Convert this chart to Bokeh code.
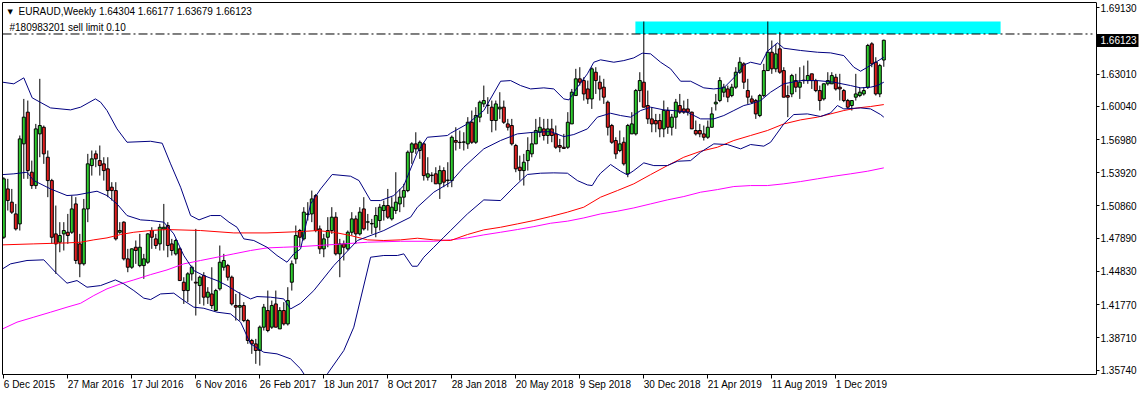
from bokeh.plotting import figure
from bokeh.models import (Range1d, FixedTicker, PrintfTickFormatter, Label,
                          ColumnDataSource, LinearAxis)
from bokeh.embed import file_html
from bokeh.resources import INLINE

# ---------------- data (EURAUD weekly) ----------------
symbol_title = "EURAUD,Weekly  1.64304 1.66177 1.63679 1.66123"
order_text = "#180983201 sell limit 0.10"

opens = [1.4798,1.5243,1.5121,1.5013,1.4921,1.5658,1.5950,1.5397,1.5274,1.5750,
         1.5811,1.5535,1.5320,1.4829,1.4752,1.4829,1.4844,1.4844,1.5105,1.4737,
         1.4553,1.5059,1.5458,1.5566,1.5504,1.5474,1.5428,1.5259,1.5228,1.4844,
         1.4937,1.4599,1.4522,1.4706,1.4537,1.4537,1.4568,1.4860,1.4783,1.4737,
         1.4875,1.4906,1.4737,1.4645,1.4691,1.4384,1.4307,1.4461,1.4384,1.4353,
         1.4445,1.4246,1.4276,1.4123,1.4323,1.4522,1.4537,1.4430,1.4169,1.4154,
         1.4169,1.4031,1.3847,1.3816,1.3755,1.3970,1.4123,1.3970,1.4184,1.3954,
         1.4123,1.4000,1.4384,1.4599,1.4860,1.4783,1.5008,1.5013,1.5182,1.4875,
         1.4691,1.4798,1.4860,1.4983,1.4645,1.4737,1.4691,1.4844,1.4967,1.4829,
         1.5059,1.4937,1.4921,1.4890,1.4952,1.5044,1.5090,1.4967,1.5044,1.5105,
         1.5167,1.5228,1.5581,1.5658,1.5597,1.5658,1.5351,1.5366,1.5382,1.5290,
         1.5412,1.5320,1.5320,1.5689,1.5673,1.5673,1.5658,1.5857,1.5673,1.5904,
         1.6026,1.6011,1.5996,1.5873,1.5980,1.5996,1.5842,1.5827,1.5643,1.5443,
         1.5412,1.5504,1.5566,1.5658,1.5765,1.5796,1.5735,1.5796,1.5750,1.5643,
         1.5627,1.5627,1.5842,1.6103,1.6257,1.6241,1.6164,1.6072,1.6318,1.6226,
         1.6180,1.6042,1.5827,1.5689,1.5597,1.5673,1.5382,1.5750,1.5750,1.6149,
         1.6226,1.6011,1.5888,1.5873,1.5873,1.5796,1.5965,1.5811,1.5904,1.6011,
         1.5980,1.5980,1.5950,1.5781,1.5781,1.5750,1.5719,1.5811,1.6026,1.6057,
         1.6134,1.6164,1.6103,1.6180,1.6318,1.6395,1.6149,1.6072,1.6057,1.5919,
         1.6103,1.6333,1.6502,1.6349,1.6533,1.6333,1.6103,1.6118,1.6241,1.6180,
         1.6241,1.6241,1.6303,1.6241,1.6149,1.6072,1.6211,1.6211,1.6272,1.6180,
         1.6149,1.6057,1.6011,1.6088,1.6103,1.6118,1.6180,1.6579,1.6410,1.6118,
         1.64304]
highs = [1.5351,1.5336,1.5243,1.5105,1.5735,1.6072,1.6057,1.5504,1.5842,1.6257,
         1.5827,1.5597,1.5336,1.5090,1.4937,1.4937,1.5013,1.5182,1.5167,1.4829,
         1.5151,1.5566,1.5597,1.5597,1.5643,1.5535,1.5535,1.5305,1.5305,1.4937,
         1.4945,1.4691,1.4695,1.4768,1.4829,1.4645,1.4835,1.4890,1.4829,1.4921,
         1.5105,1.4937,1.4783,1.4783,1.4706,1.4430,1.4476,1.4537,1.4875,1.4445,
         1.4476,1.4338,1.4522,1.4323,1.4722,1.4645,1.4553,1.4445,1.4276,1.4292,
         1.4200,1.4046,1.3862,1.3862,1.3985,1.4184,1.4307,1.4215,1.4307,1.4154,
         1.4200,1.4338,1.4584,1.4906,1.4875,1.5075,1.5121,1.5228,1.5197,1.4906,
         1.4829,1.4983,1.5075,1.5029,1.4783,1.4768,1.4860,1.5029,1.4998,1.5075,
         1.5167,1.5013,1.4967,1.5075,1.5105,1.5136,1.5243,1.5167,1.5397,1.5243,
         1.5290,1.5597,1.5673,1.5765,1.5689,1.5673,1.5535,1.5397,1.5443,1.5458,
         1.5443,1.5489,1.5735,1.5811,1.5781,1.5765,1.5904,1.5965,1.5996,1.6057,
         1.6195,1.6088,1.6057,1.6057,1.6134,1.6057,1.5888,1.5888,1.5658,1.5550,
         1.5566,1.5719,1.5765,1.5888,1.5904,1.5888,1.5888,1.5888,1.5827,1.5704,
         1.5750,1.5950,1.6164,1.6349,1.6364,1.6272,1.6241,1.6364,1.6364,1.6287,
         1.6257,1.6057,1.5842,1.5719,1.5781,1.5719,1.5842,1.5950,1.6164,1.6318,
         1.6785,1.6149,1.5996,1.5934,1.5934,1.6057,1.5996,1.5934,1.6072,1.6118,
         1.6057,1.6072,1.5955,1.5873,1.5842,1.5827,1.5873,1.5996,1.6118,1.6272,
         1.6211,1.6195,1.6211,1.6364,1.6456,1.6410,1.6257,1.6103,1.6072,1.6118,
         1.6395,1.6785,1.6610,1.6579,1.6686,1.6364,1.6195,1.6303,1.6303,1.6364,
         1.6379,1.6425,1.6303,1.6257,1.6195,1.6215,1.6318,1.6318,1.6303,1.6303,
         1.6164,1.6072,1.6060,1.6303,1.6180,1.6180,1.6579,1.6594,1.6456,1.6395,
         1.66177]
lows = [1.4783,1.5044,1.5013,1.4860,1.4860,1.5336,1.5336,1.5243,1.5243,1.5535,
        1.5474,1.5167,1.4737,1.4461,1.4660,1.4676,1.4737,1.4829,1.4553,1.4430,
        1.4537,1.4937,1.5366,1.5443,1.5366,1.5320,1.5167,1.5136,1.4768,1.4829,
        1.4584,1.4476,1.4507,1.4553,1.4522,1.4415,1.4553,1.4691,1.4691,1.4676,
        1.4676,1.4614,1.4630,1.4630,1.4399,1.4184,1.4200,1.4399,1.4077,1.4184,
        1.4169,1.4184,1.4138,1.4120,1.4307,1.4491,1.4399,1.4169,1.4031,1.4031,
        1.4016,1.3816,1.3724,1.3632,1.3616,1.3939,1.3923,1.3954,1.3970,1.3954,
        1.3985,1.3985,1.4307,1.4553,1.4706,1.4768,1.4952,1.4937,1.4844,1.4645,
        1.4614,1.4706,1.4829,1.4630,1.4430,1.4584,1.4676,1.4814,1.4737,1.4814,
        1.4860,1.4860,1.4829,1.4798,1.4860,1.4952,1.4967,1.4952,1.5013,1.5029,
        1.5075,1.5213,1.5474,1.5566,1.5520,1.5320,1.5320,1.5305,1.5290,1.5151,
        1.5259,1.5259,1.5259,1.5597,1.5612,1.5597,1.5612,1.5658,1.5658,1.5857,
        1.5996,1.5934,1.5765,1.5781,1.5888,1.5842,1.5781,1.5643,1.5397,1.5320,
        1.5274,1.5412,1.5535,1.5658,1.5719,1.5689,1.5658,1.5673,1.5612,1.5581,
        1.5612,1.5612,1.5842,1.6103,1.6195,1.6057,1.6026,1.5980,1.6118,1.6057,
        1.6026,1.5735,1.5658,1.5520,1.5581,1.5458,1.5351,1.5750,1.5735,1.6042,
        1.5996,1.5842,1.5765,1.5765,1.5719,1.5719,1.5750,1.5735,1.5796,1.5934,
        1.5934,1.5919,1.5796,1.5735,1.5719,1.5689,1.5704,1.5811,1.5965,1.6042,
        1.6088,1.6042,1.6088,1.6164,1.6303,1.6164,1.6026,1.6026,1.5888,1.5904,
        1.6088,1.6333,1.6303,1.6318,1.6303,1.6088,1.5904,1.6088,1.6134,1.6072,
        1.6211,1.6211,1.6164,1.6134,1.5965,1.6057,1.6195,1.6211,1.6149,1.6057,
        1.6042,1.5980,1.5965,1.6057,1.6088,1.6103,1.6164,1.6364,1.6103,1.6088,
        1.63679]
closes = [1.5336,1.5136,1.5029,1.4875,1.5704,1.5904,1.5412,1.5274,1.5796,1.5827,
          1.5566,1.5320,1.4798,1.4737,1.4814,1.4860,1.4814,1.5059,1.4584,1.4553,
          1.5059,1.5474,1.5520,1.5520,1.5458,1.5412,1.5228,1.5228,1.4783,1.4860,
          1.4599,1.4522,1.4691,1.4676,1.4706,1.4599,1.4829,1.4798,1.4722,1.4890,
          1.4890,1.4722,1.4676,1.4768,1.4399,1.4307,1.4461,1.4522,1.4376,1.4430,
          1.4246,1.4292,1.4169,1.4307,1.4568,1.4584,1.4430,1.4184,1.4154,1.4169,
          1.4031,1.3847,1.3816,1.3755,1.3970,1.4154,1.3939,1.4169,1.3970,1.4123,
          1.4000,1.4215,1.4553,1.4814,1.4798,1.5029,1.5013,1.5151,1.4860,1.4691,
          1.4783,1.4860,1.4983,1.4645,1.4737,1.4706,1.4844,1.4967,1.4829,1.5029,
          1.4875,1.4940,1.4925,1.4998,1.5075,1.5090,1.4983,1.5075,1.5121,1.5167,
          1.5228,1.5581,1.5658,1.5612,1.5673,1.5366,1.5382,1.5370,1.5290,1.5412,
          1.5305,1.5325,1.5719,1.5673,1.5670,1.5676,1.5857,1.5673,1.5919,1.6042,
          1.6057,1.6015,1.5873,1.6026,1.5996,1.5857,1.5811,1.5658,1.5428,1.5412,
          1.5489,1.5597,1.5658,1.5781,1.5811,1.5735,1.5796,1.5735,1.5627,1.5627,
          1.5616,1.5857,1.6134,1.6257,1.6226,1.6118,1.6072,1.6349,1.6241,1.6164,
          1.6088,1.5811,1.5673,1.5566,1.5658,1.5474,1.5827,1.5842,1.6149,1.6241,
          1.5996,1.5888,1.5842,1.5842,1.5796,1.5965,1.5811,1.5904,1.6042,1.5950,
          1.5950,1.5950,1.5796,1.5750,1.5750,1.5719,1.5811,1.5934,1.6042,1.6241,
          1.6180,1.6088,1.6180,1.6318,1.6410,1.6226,1.6088,1.6042,1.5934,1.6103,
          1.6333,1.6502,1.6349,1.6487,1.6318,1.6088,1.6088,1.6287,1.6180,1.6226,
          1.6245,1.6287,1.6241,1.6149,1.6057,1.6211,1.6241,1.6287,1.6164,1.6164,
          1.6057,1.5996,1.6057,1.6118,1.6134,1.6149,1.6564,1.6395,1.6118,1.6379,
          1.66123]

# Bollinger bands (20, 2) and moving averages, read as (bar index, price)
bb_upper = [(-0.3,1.6226),(2.5,1.6211),(5.0,1.6266),(7.1,1.6082),(11.7,1.5989),(16.7,1.5971),
            (19.2,1.5996),(22.9,1.6072),(24.2,1.6042),(25.8,1.5965),(28.3,1.5796),(30.8,1.5673),
            (36.7,1.5682),(39.6,1.5664),(41.7,1.5474),(44.2,1.5259),(46.7,1.4998),(48.8,1.4958),
            (51.7,1.4998),(54.2,1.4998),(56.3,1.4937),(58.3,1.4890),(60.0,1.4783),(62.5,1.4768),
            (65.8,1.4706),(68.3,1.4630),(70.8,1.4568),(72.5,1.4645),(74.2,1.4691),(76.7,1.5105),
            (79.2,1.5243),(82.1,1.5376),(86.7,1.5360),(88.8,1.5320),(91.7,1.5136),(94.2,1.5136),
            (97.5,1.5182),(100.0,1.5274),(103.4,1.5581),(105.9,1.5719),(110.9,1.5735),(111.7,1.5756),
            (115.9,1.5842),(120.0,1.5965),(124.2,1.6235),(126.7,1.6241),(129.2,1.6195),(131.7,1.6164),
            (135.0,1.6174),(137.5,1.6164),(140.0,1.6072),(141.3,1.6063),(143.4,1.6180),(145.9,1.6303),
            (147.5,1.6410),(149.2,1.6432),(152.5,1.6410),(155.0,1.6425),(157.5,1.6450),(159.6,1.6493),
            (161.7,1.6487),(164.2,1.6410),(166.7,1.6349),(169.2,1.6235),(171.7,1.6235),(175.0,1.6174),
            (177.5,1.6164),(180.0,1.6174),(182.5,1.6266),(185.0,1.6385),(186.7,1.6410),(189.2,1.6389),
            (190.9,1.6511),(193.4,1.6588),(195.0,1.6539),(199.2,1.6518),(203.4,1.6502),(206.7,1.6496),
            (210.0,1.6471),(212.5,1.6364),(214.2,1.6327),(215.9,1.6364),(218.0,1.6410),(220.0,1.6456)]
bb_middle = [(-0.3,1.5375),(2.5,1.5382),(5.8,1.5397),(7.5,1.5320),(11.7,1.5243),(15.8,1.5182),
             (18.3,1.5188),(23.3,1.5222),(25.8,1.5182),(28.3,1.5105),(30.8,1.4998),(34.2,1.4958),
             (36.7,1.4952),(40.0,1.4937),(42.5,1.4829),(45.0,1.4630),(47.5,1.4491),(50.0,1.4445),
             (53.3,1.4399),(55.8,1.4353),(59.2,1.4276),(61.7,1.4230),(63.3,1.4252),(66.7,1.4246),
             (70.0,1.4230),(71.7,1.4138),(74.2,1.4190),(77.5,1.4307),(82.5,1.4537),(88.4,1.4768),
             (95.0,1.4860),(101.7,1.4983),(103.4,1.5075),(107.5,1.5213),(111.7,1.5305),(115.0,1.5443),
             (120.0,1.5612),(124.2,1.5689),(128.4,1.5750),(132.5,1.5765),(136.7,1.5771),(140.0,1.5725),
             (142.5,1.5744),(145.9,1.5796),(148.4,1.5904),(151.7,1.5940),(154.2,1.5919),(156.7,1.5904),
             (159.2,1.5965),(161.7,1.5996),(165.0,1.5971),(167.5,1.5965),(170.9,1.5950),(174.2,1.5888),
             (177.5,1.5888),(180.0,1.5919),(182.5,1.5965),(185.0,1.6011),(186.7,1.6026),(189.2,1.6057),
             (191.7,1.6134),(195.0,1.6211),(199.2,1.6241),(203.4,1.6241),(207.5,1.6226),(211.7,1.6195),
             (214.2,1.6174),(216.7,1.6180),(218.4,1.6195),(220.0,1.6226)]
bb_lower = [(-0.3,1.4507),(1.7,1.4553),(5.8,1.4584),(10.0,1.4590),(12.9,1.4476),(15.8,1.4375),
            (18.3,1.4399),(20.8,1.4338),(24.2,1.4353),(27.9,1.4405),(30.0,1.4369),(32.5,1.4307),
            (35.0,1.4237),(36.7,1.4224),(39.2,1.4276),(42.5,1.4283),(45.0,1.4215),(47.5,1.4154),
            (50.0,1.4144),(53.3,1.4108),(56.7,1.4092),(59.2,1.4016),(61.7,1.3816),(65.0,1.3739),
            (68.3,1.3724),(71.7,1.3678),(74.2,1.3586),(77.5,1.3400),(80.9,1.3540),(85.0,1.3755),
            (87.5,1.3970),(91.7,1.4614),(95.0,1.4630),(98.4,1.4630),(100.0,1.4645),(102.1,1.4531),
            (103.4,1.4531),(105.0,1.4614),(107.5,1.4706),(110.0,1.4798),(111.7,1.4860),(115.9,1.5013),
            (120.0,1.5142),(124.2,1.5136),(127.5,1.5259),(130.9,1.5376),(134.2,1.5388),(137.5,1.5391),
            (140.9,1.5388),(143.4,1.5320),(145.9,1.5280),(147.1,1.5274),(148.4,1.5351),(149.2,1.5388),
            (151.7,1.5468),(154.2,1.5406),(155.9,1.5372),(157.5,1.5412),(160.0,1.5483),(162.5,1.5458),
            (165.9,1.5458),(168.4,1.5498),(171.7,1.5504),(174.2,1.5581),(177.5,1.5658),(180.9,1.5652),
            (184.2,1.5612),(186.7,1.5652),(190.0,1.5637),(191.7,1.5673),(195.0,1.5842),(197.5,1.5928),
            (200.9,1.5934),(204.2,1.5910),(206.7,1.5943),(208.4,1.6011),(210.0,1.5980),(214.2,1.5989),
            (216.7,1.5980),(219.2,1.5928),(220.0,1.5904)]
ma_red = [(-0.3,1.4728),(7.5,1.4737),(15.8,1.4746),(19.2,1.4752),(22.5,1.4774),(25.8,1.4792),
          (29.2,1.4823),(32.5,1.4844),(36.7,1.4860),(40.8,1.4869),(49.2,1.4860),(57.5,1.4838),
          (65.8,1.4838),(74.2,1.4850),(78.4,1.4860),(82.5,1.4844),(86.7,1.4814),(90.9,1.4774),
          (95.0,1.4768),(99.2,1.4774),(103.4,1.4789),(107.5,1.4774),(111.7,1.4768),(115.9,1.4823),
          (120.0,1.4866),(124.2,1.4890),(128.4,1.4921),(132.5,1.4952),(136.7,1.4989),(140.9,1.5029),
          (145.0,1.5075),(149.2,1.5167),(153.4,1.5228),(157.5,1.5290),(161.7,1.5375),(165.9,1.5458),
          (170.0,1.5535),(174.2,1.5590),(178.4,1.5627),(182.5,1.5689),(186.7,1.5735),(190.9,1.5781),
          (195.0,1.5842),(199.2,1.5879),(203.4,1.5904),(206.7,1.5934),(210.0,1.5965),(213.4,1.5989),
          (216.7,1.6002),(220.0,1.6020)]
ma_magenta = [(-0.3,1.3954),(3.3,1.4016),(7.5,1.4062),(11.7,1.4108),(15.8,1.4154),(19.2,1.4190),
              (22.5,1.4261),(25.8,1.4323),(29.2,1.4369),(32.5,1.4405),(36.7,1.4454),(40.8,1.4497),
              (45.0,1.4553),(49.2,1.4584),(53.3,1.4614),(57.5,1.4645),(61.7,1.4676),(65.8,1.4700),
              (70.0,1.4706),(74.2,1.4712),(82.5,1.4731),(90.9,1.4752),(99.2,1.4761),(107.5,1.4761),
              (111.7,1.4774),(115.9,1.4792),(120.0,1.4820),(124.2,1.4844),(128.4,1.4869),(132.5,1.4896),
              (136.7,1.4927),(140.9,1.4946),(145.0,1.4976),(149.2,1.5013),(153.4,1.5038),(157.5,1.5068),
              (161.7,1.5105),(165.9,1.5142),(170.0,1.5173),(174.2,1.5213),(178.4,1.5237),(182.5,1.5265),
              (186.7,1.5274),(190.9,1.5274),(195.0,1.5290),(199.2,1.5311),(203.4,1.5336),(207.5,1.5360),
              (211.7,1.5382),(215.9,1.5406),(220.0,1.5437)]

# pending order level and rectangle object
sell_limit_price = 1.6670
rect_from_bar, rect_to_bar = 157.9, 249.2
rect_low, rect_high = 1.6670, 1.6785

# axis labels
date_tick_bars = [0, 16, 32, 48, 64, 80, 96, 112, 128, 144, 160, 176, 192, 208]
date_tick_labels = ["6 Dec 2015", "27 Mar 2016", "17 Jul 2016", "6 Nov 2016", "26 Feb 2017",
                    "18 Jun 2017", "8 Oct 2017", "28 Jan 2018", "20 May 2018", "9 Sep 2018",
                    "30 Dec 2018", "21 Apr 2019", "11 Aug 2019", "1 Dec 2019"]
price_ticks = [1.69130, 1.63010, 1.60040, 1.56980, 1.53920, 1.50860,
               1.47890, 1.44830, 1.41770, 1.38710, 1.35740]

# ---------------- figure ----------------
FONT = "Liberation Sans"
FS = "10px"
PX_PER_BAR = 4.0
CHART_W = 1094          # width of the chart box (price scale sits right of it)
FRAME_W, FRAME_H = 1140, 372
X0 = -0.325
X_BOX = X0 + CHART_W / PX_PER_BAR
X1 = X0 + FRAME_W / PX_PER_BAR
Y0, Y1 = 1.3534, 1.6960

p = figure(frame_width=FRAME_W, frame_height=FRAME_H,
           x_range=Range1d(X0, X1), y_range=Range1d(Y0, Y1),
           output_backend="svg", toolbar_location=None,
           y_axis_location=None, x_axis_location=None,
           min_border_left=2, min_border_top=2, min_border_right=0, min_border_bottom=20,
           background_fill_color="white", border_fill_color="white",
           outline_line_color=None)
p.grid.visible = False

def bare_axis(**kw):
    return LinearAxis(ticker=FixedTicker(ticks=[]), major_tick_out=0, major_tick_in=0,
                      minor_tick_out=0, minor_tick_in=0, major_label_standoff=0,
                      major_label_text_color=None, axis_line_color="black", **kw)

p.add_layout(bare_axis(), "left")
p.add_layout(bare_axis(bounds=(X0, X_BOX)), "above")

# date scale (labels start at their tick, as in the terminal)
date_axis = LinearAxis(bounds=(X0, X_BOX), ticker=FixedTicker(ticks=date_tick_bars),
                       major_label_overrides={b: t for b, t in zip(date_tick_bars, date_tick_labels)},
                       major_tick_out=4, major_tick_in=0, minor_tick_out=0, minor_tick_in=0,
                       axis_line_color="black", major_label_orientation=-1e-6,
                       major_label_standoff=6, major_label_text_font=FONT,
                       major_label_text_font_size=FS, major_label_text_color="black")
p.add_layout(date_axis, "below")

# price scale on the right edge of the chart box
price_axis = LinearAxis(fixed_location=X_BOX, ticker=FixedTicker(ticks=price_ticks),
                        formatter=PrintfTickFormatter(format="%.5f"),
                        major_tick_out=3, major_tick_in=0, minor_tick_out=0, minor_tick_in=0,
                        major_label_standoff=1, axis_line_color="black",
                        major_label_text_font=FONT, major_label_text_font_size=FS,
                        major_label_text_color="black")
p.add_layout(price_axis, "right")

# current price box on the price scale
box_axis = LinearAxis(fixed_location=X_BOX, ticker=FixedTicker(ticks=[closes[-1]]),
                      formatter=PrintfTickFormatter(format="%.5f"),
                      major_tick_out=42, major_tick_in=0, major_tick_line_width=13,
                      major_tick_line_color="black", major_tick_line_cap="butt",
                      minor_tick_out=0, minor_tick_in=0, axis_line_color=None,
                      major_label_standoff=-38, major_label_text_color="white",
                      major_label_text_font=FONT, major_label_text_font_size=FS)
p.add_layout(box_axis, "right")

idx = list(range(len(closes)))
up = [c >= o for o, c in zip(opens, closes)]
src = ColumnDataSource(dict(
    x=idx, o=opens, h=highs, l=lows, c=closes,
    top=[max(o, c) for o, c in zip(opens, closes)],
    bot=[min(o, c) for o, c in zip(opens, closes)],
    col=["#2ecc2e" if u else "#e02020" for u in up]))

# rectangle object
p.quad(left=[rect_from_bar], right=[rect_to_bar], bottom=[rect_low], top=[rect_high],
       fill_color="#00ffff", line_color=None)

# candles
p.segment(x0="x", y0="l", x1="x", y1="h", source=src, line_color="black", line_width=1)
p.vbar(x="x", width=0.75, top="top", bottom="bot", source=src,
       fill_color="col", line_color="black", line_width=1)

# indicators
def draw(pairs, color):
    xs = [a for a, b in pairs]
    ys = [b for a, b in pairs]
    p.line(xs, ys, line_color=color, line_width=1)

draw(ma_magenta, "#ff00ff")
draw(ma_red, "#ff0000")
draw(bb_upper, "#000080")
draw(bb_middle, "#000080")
draw(bb_lower, "#000080")

# pending order line across the chart box
p.segment(x0=[X0], y0=[sell_limit_price], x1=[X_BOX - 1], y1=[sell_limit_price],
          line_color="black", line_width=1, line_dash="9 3 2 3")

# texts
p.add_layout(Label(x=X0, y=Y1, x_offset=5, y_offset=-9, text="\u25bc",
                   text_font="DejaVu Sans", text_font_size="7px", text_baseline="middle",
                   text_color="black"))
p.add_layout(Label(x=X0, y=Y1, x_offset=16, y_offset=-9, text=symbol_title,
                   text_font=FONT, text_font_size=FS, text_baseline="middle",
                   text_color="black"))
p.add_layout(Label(x=X0, y=sell_limit_price, x_offset=7, y_offset=6, text=order_text,
                   text_font=FONT, text_font_size=FS, text_baseline="middle",
                   text_color="black"))

open("out.html", "w").write(file_html(p, INLINE))
